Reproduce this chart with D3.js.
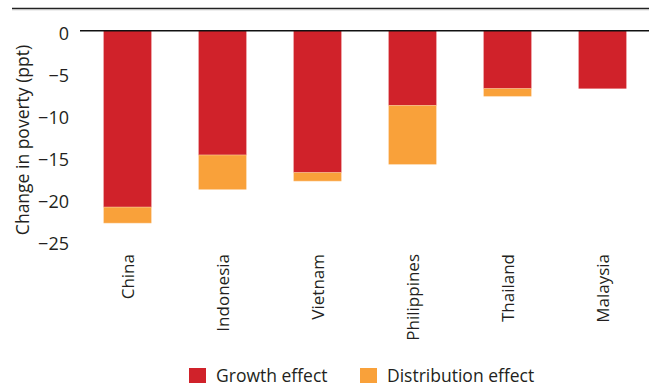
<!DOCTYPE html>
<html><head><meta charset="utf-8">
<script src="https://cdn.jsdelivr.net/npm/d3@7"></script>
<style>body{margin:0;background:#fff}svg{display:block;font-family:"Open Sans",sans-serif}</style>
</head><body><svg id="c" width="649" height="391"></svg>
<script>
const categories = ["China","Indonesia","Vietnam","Philippines","Thailand","Malaysia"];
const growth = [-21.0,-14.8,-16.9,-8.9,-6.9,-6.9];
const distribution = [-1.9,-4.1,-1.0,-7.0,-0.9,0];
const yTicks = [0,-5,-10,-15,-20,-25];
const seriesNames = ["Growth effect","Distribution effect"];
const colors = ["#d0222a","#f9a13a"];

const svg = d3.select("#c");
const x = d3.scaleBand().domain(categories).range([80,650]).paddingInner(0.5).paddingOuter(0.25);
const y = d3.scaleLinear().domain([0,-25]).range([30.7,240.7]);
const txt = "#231f20";

// top rule
svg.append("line").attr("x1",12).attr("x2",649).attr("y1",8.5).attr("y2",8.5).attr("stroke","#222").attr("stroke-width",1.4);
svg.append("line").attr("x1",12).attr("x2",649).attr("y1",9.8).attr("y2",9.8).attr("stroke","#bbb").attr("stroke-width",0.8);

const data = categories.map((c,i)=>({c, g:growth[i], d:distribution[i]}));
const g = svg.append("g");
g.selectAll("rect.g").data(data).join("rect")
  .attr("x",d=>x(d.c)).attr("width",x.bandwidth())
  .attr("y",y(0)).attr("height",d=>y(d.g)-y(0))
  .attr("fill",colors[0]).attr("stroke","#e8868a").attr("stroke-width",0.5);
g.selectAll("rect.d").data(data.filter(d=>d.d!==0)).join("rect")
  .attr("x",d=>x(d.c)).attr("width",x.bandwidth())
  .attr("y",d=>y(d.g)).attr("height",d=>y(d.g+d.d)-y(d.g))
  .attr("fill",colors[1]).attr("stroke","#fcd09c").attr("stroke-width",0.5);

// zero line
svg.append("line").attr("x1",80).attr("x2",649).attr("y1",y(0)).attr("y2",y(0)).attr("stroke","#111").attr("stroke-width",1.5);

// y axis
const ya = svg.append("g").attr("transform","translate(69,0)")
  .call(d3.axisLeft(y).tickValues(yTicks).tickSize(0).tickPadding(0).tickFormat(d=>d===0?"0":"\u2212"+Math.abs(d)));
ya.select(".domain").remove();
ya.selectAll("text").attr("font-size",18).attr("fill",txt).attr("font-family","Open Sans").attr("dy","0.48em");

svg.append("text").attr("transform","translate(29,140) rotate(-90)").attr("text-anchor","middle")
  .attr("font-size",17.5).attr("fill",txt).text("Change in poverty (ppt)");

// x axis labels
const xa = svg.append("g").attr("transform","translate(0,254)")
  .call(d3.axisBottom(x).tickSize(0).tickPadding(0));
xa.select(".domain").remove();
xa.selectAll("text").attr("font-size",17).attr("fill",txt).attr("font-family","Open Sans")
  .attr("text-anchor","end").attr("transform","rotate(-90)").attr("x",0).attr("y",0).attr("dy","0.36em");

// legend
const lx = [189,360];
seriesNames.forEach((n,i)=>{
  svg.append("rect").attr("x",lx[i]).attr("y",368).attr("width",17).attr("height",15).attr("fill",colors[i]);
  svg.append("text").attr("x",lx[i]+27).attr("y",382).attr("font-size",17.5).attr("fill",txt).text(n);
});
</script></body></html>
